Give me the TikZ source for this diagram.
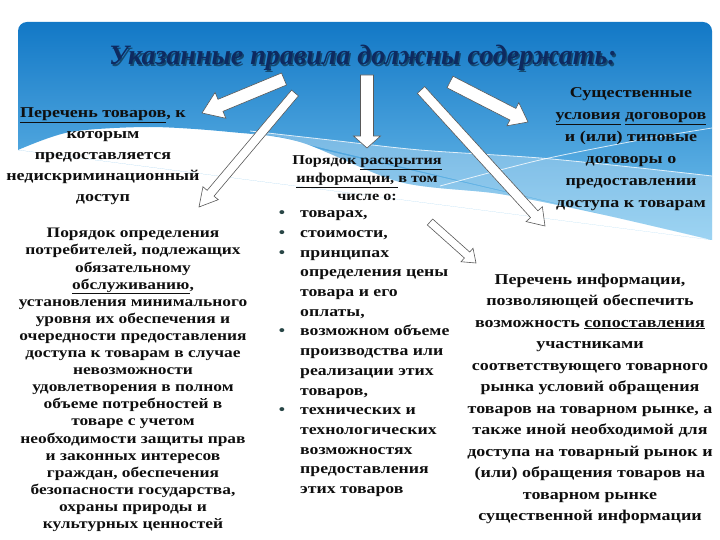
\documentclass[tikz,border=0pt]{standalone}
\usepackage{fontspec}
\setmainfont{Liberation Serif}
\newfontfamily\bodyfont{Liberation Serif}[FakeStretch=1.2]
\newfontfamily\titlefont{Liberation Serif}
\usetikzlibrary{calc}
\definecolor{bluetop}{RGB}{18,120,198}
\definecolor{bluebot}{RGB}{120,196,238}
\definecolor{titlecol}{RGB}{14,42,96}
\definecolor{txtcol}{RGB}{15,15,15}
\definecolor{bulcol}{RGB}{40,70,70}
\newcommand\blockarrow[5]{%
  \coordinate (baH) at ($(#2)!#5!(#1)$);
  \filldraw[arrowstyle] ($(#1)!#3!90:(#2)$) -- ($(baH)!#3!90:(#2)$) -- ($(baH)!#4!90:(#2)$) -- (#2)
    -- ($(baH)!#4!-90:(#2)$) -- ($(baH)!#3!-90:(#2)$) -- ($(#1)!#3!-90:(#2)$) -- cycle;}
\newcommand\bul{\llap{\textcolor{bulcol}{•}\hspace{15pt}}}
\tikzset{
  arrowstyle/.style={fill=white, draw=black!65, line width=0.6pt, line join=miter},
  txt/.style={text=txtcol, align=center, inner sep=0pt},
}
\begin{document}
\begin{tikzpicture}[x=1pt,y=-1pt]
\useasboundingbox (0,0) rectangle (720,540);
% background panel
\shade[top color=bluetop, bottom color=bluebot]
  (18,150) {[rounded corners=9pt] -- (18,22) -- (712,22)} -- (712,240)
  plot[smooth] coordinates {(712,240) (600,214) (500,194) (400,182) (300,142) (230,132) (150,127) (70,132) (18,150)} -- cycle;
\fill[white, opacity=0.28] plot[smooth] coordinates {(250,131) (330,140) (420,150) (540,158) (640,168) (712,176)}
  -- (712,240) plot[smooth] coordinates {(712,240) (600,214) (500,194) (400,182) (300,142) (250,133)} -- cycle;
\draw[white, line width=0.8pt, opacity=0.8] plot[smooth] coordinates {(250,131) (330,140) (420,150) (540,158) (640,168) (712,176)};
\draw[white, line width=0.8pt, opacity=0.8] plot[smooth] coordinates {(440,186) (540,160) (640,140) (712,128)};
% title
\node[font=\titlefont\fontsize{28}{30}\selectfont\bfseries\itshape, text=black, opacity=0.45, anchor=base] at (364.5,66.5) {Указанные правила должны содержать:};
\node[font=\titlefont\fontsize{28}{30}\selectfont\bfseries\itshape, text=titlecol, anchor=base] (title) at (363,65) {Указанные правила должны содержать:};
% arrows
\coordinate (t1) at (284,79);  \coordinate (h1) at (202,113);
\coordinate (t2) at (295,93);  \coordinate (h2) at (199,207);
\coordinate (t3) at (367,75);  \coordinate (h3) at (367,148);
\coordinate (t4) at (421,90);  \coordinate (h4) at (545,226);
\coordinate (t5) at (450,82);  \coordinate (h5) at (528,122);
\coordinate (t6) at (430,222); \coordinate (h6) at (476,263);
\blockarrow{t1}{h1}{6.5pt}{14pt}{20pt}
\blockarrow{t2}{h2}{4.5pt}{10pt}{18pt}
\blockarrow{t3}{h3}{6.5pt}{13.5pt}{12pt}
\blockarrow{t4}{h4}{5pt}{11pt}{16pt}
\blockarrow{t5}{h5}{6.5pt}{13pt}{17pt}
\blockarrow{t6}{h6}{4pt}{9pt}{12pt}
% texts (anchor base = baseline of last line)
\node[txt, anchor=base, font=\bodyfont\fontsize{15}{21}\selectfont\bfseries] (goods) at (103,201.5)
  {\underline{Перечень товаров}, к\\которым\\предоставляется\\недискриминационный\\доступ};
\node[txt, anchor=base, font=\bodyfont\fontsize{14.5}{17.1}\selectfont\bfseries] (order) at (133,528.5)
  {Порядок определения\\потребителей, подлежащих\\обязательному\\\underline{обслуживанию},\\установления минимального\\уровня их обеспечения и\\очередности предоставления\\доступа к товарам в случае\\невозможности\\удовлетворения в полном\\объеме потребностей в\\товаре с учетом\\необходимости защиты прав\\и законных интересов\\граждан, обеспечения\\безопасности государства,\\охраны природы и\\культурных ценностей};
\node[txt, anchor=base, font=\bodyfont\fontsize{13.5}{18}\selectfont\bfseries] (disclose) at (367,201)
  {Порядок \underline{раскрытия}\\\underline{информации,\ }в том\\числе о:};
\node[txt, align=left, anchor=base west, font=\bodyfont\fontsize{14.8}{19.7}\selectfont\bfseries] (list) at (300,493.5)
  {\bul товарах,\\
   \bul стоимости,\\
   \bul принципах\\
   определения цены\\товара и его\\оплаты,\\
   \bul возможном объеме\\
   производства или\\реализации этих\\товаров,\\
   \bul технических и\\
   технологических\\возможностях\\предоставления\\этих товаров};
\node[txt, anchor=base, font=\bodyfont\fontsize{15}{22}\selectfont\bfseries] (terms) at (631,207.5)
  {Существенные\\\underline{условия} \underline{договоров}\\и (или) типовые\\договоры о\\предоставлении\\доступа к товарам};
\node[txt, anchor=base, font=\bodyfont\fontsize{15}{21.5}\selectfont\bfseries] (info) at (590,520.5)
  {Перечень информации,\\позволяющей обеспечить\\возможность \underline{сопоставления}\\участниками\\соответствующего товарного\\рынка условий обращения\\товаров на товарном рынке, а\\также иной необходимой для\\доступа на товарный рынок и\\(или) обращения товаров на\\товарном рынке\\существенной информации};
\end{tikzpicture}
\end{document}
